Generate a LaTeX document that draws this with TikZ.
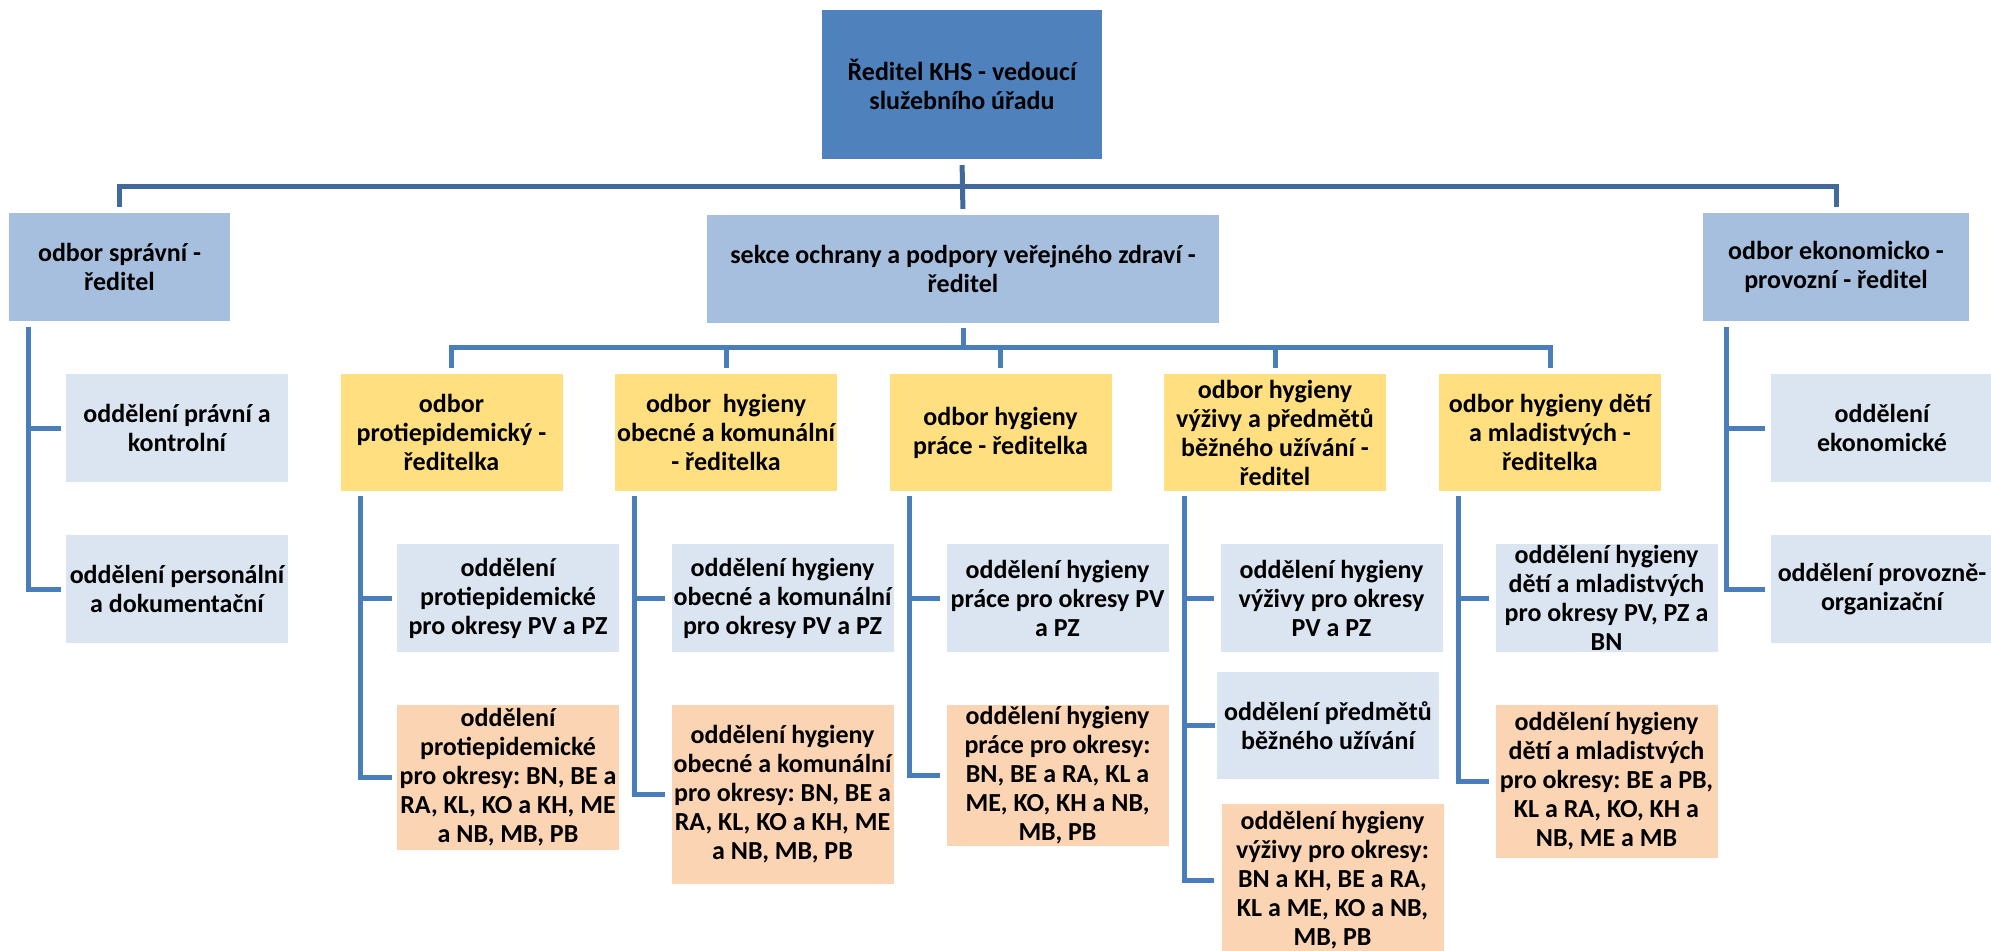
\documentclass[tikz,border=0pt]{standalone}
\usepackage{fontspec}
\setmainfont{Carlito}
\usepackage{tikz}
\frenchspacing

\definecolor{khs}{HTML}{4F81BD}
\definecolor{odbor}{HTML}{A7BFDE}
\definecolor{oddel}{HTML}{DBE5F1}
\definecolor{zluta}{HTML}{FFDF80}
\definecolor{oranz}{HTML}{FBD4B4}
\definecolor{cara}{HTML}{41699C}
\definecolor{cara2}{HTML}{4A7EBB}

\begin{document}
\begin{tikzpicture}[
  box/.style={inner sep=0pt,align=center,font=\bfseries\fontsize{26bp}{29bp}\selectfont,minimum width=222bp,minimum height=108bp},
  vedeni/.style={box,fill=khs},
  odborbox/.style={box,fill=odbor},
  oddelbox/.style={box,fill=oddel},
  zlutybox/.style={box,fill=zluta,minimum height=117bp},
  oranzbox/.style={box,fill=oranz},
  spoj/.style={line width=5bp,draw=cara2},
  hlspoj/.style={line width=5bp,draw=cara}]

\useasboundingbox (0bp,0bp) rectangle (1991bp,-951bp);

\node (KHS) at (962bp,-84.5bp)[vedeni,minimum width=280bp,minimum height=149bp] {Ředitel KHS - vedoucí\\služebního úřadu};
\node (spravni) at (119.5bp,-267bp)[odborbox,minimum width=221bp] {odbor správní -\\ředitel};
\node (sekce) at (963bp,-269bp)[odborbox,minimum width=512bp] {sekce ochrany a podpory veřejného zdraví -\\ředitel};
\node (ekonom) at (1836bp,-267bp)[odborbox,minimum width=266bp] {odbor ekonomicko -\\provozní - ředitel};
\node (pravni) at (177bp,-428bp)[oddelbox] {oddělení právní a\\kontrolní};
\node (personal) at (177bp,-589bp)[oddelbox] {oddělení personální\\a dokumentační};
\node (ekonomicke) at (1882bp,-428bp)[oddelbox] {oddělení\\ekonomické};
\node (provozni) at (1882bp,-589bp)[oddelbox] {oddělení provozně-\\organizační};
\node (proti) at (451.5bp,-432.5bp)[zlutybox] {odbor\\protiepidemický -\\ředitelka};
\node (obecna) at (726bp,-432.5bp)[zlutybox] {odbor~ hygieny\\obecné a komunální\\- ředitelka};
\node (prace) at (1000.5bp,-432.5bp)[zlutybox] {odbor hygieny\\práce - ředitelka};
\node (vyziva) at (1275bp,-432.5bp)[zlutybox] {odbor hygieny\\výživy a předmětů\\běžného užívání -\\ředitel};
\node (deti) at (1550bp,-432.5bp)[zlutybox] {odbor hygieny dětí\\a mladistvých -\\ředitelka};
\node (protiPV) at (508bp,-598bp)[oddelbox] {oddělení\\protiepidemické\\pro okresy PV a PZ};
\node (protiOkr) at (508bp,-777.5bp)[oranzbox,minimum height=145bp] {oddělení\\protiepidemické\\pro okresy: BN, BE a\\RA, KL, KO a KH, ME\\a NB, MB, PB};
\node (obecnaPV) at (782.5bp,-598bp)[oddelbox] {oddělení hygieny\\obecné a komunální\\pro okresy PV a PZ};
\node (obecnaOkr) at (782.5bp,-794.5bp)[oranzbox,minimum height=179bp] {oddělení hygieny\\obecné a komunální\\pro okresy: BN, BE a\\RA, KL, KO a KH, ME\\a NB, MB, PB};
\node (pracePV) at (1057.5bp,-598bp)[oddelbox] {oddělení hygieny\\práce pro okresy PV\\a PZ};
\node (praceOkr) at (1057.5bp,-775.5bp)[oranzbox,minimum height=141bp] {oddělení hygieny\\práce pro okresy:\\BN, BE a RA, KL a\\ME, KO, KH a NB,\\MB, PB};
\node (vyzivaPV) at (1331.5bp,-598bp)[oddelbox] {oddělení hygieny\\výživy pro okresy\\PV a PZ};
\node (predmety) at (1328bp,-725.5bp)[oddelbox,minimum height=107bp] {oddělení předmětů\\běžného užívání};
\node (vyzivaOkr) at (1332.5bp,-880bp)[oranzbox,minimum height=152bp] {oddělení hygieny\\výživy pro okresy:\\BN a KH, BE a RA,\\KL a ME, KO a NB,\\MB, PB};
\node (detiPV) at (1606.5bp,-598bp)[oddelbox] {oddělení hygieny\\dětí a mladistvých\\pro okresy PV, PZ a\\BN};
\node (detiOkr) at (1606.5bp,-781.5bp)[oranzbox,minimum height=153bp] {oddělení hygieny\\dětí a mladistvých\\pro okresy: BE a PB,\\KL a RA, KO, KH a\\NB, ME a MB};

\coordinate (bus1) at (962bp,-186bp);
\coordinate (bus2) at (963bp,-347bp);

\draw [hlspoj,shorten <=6bp,shorten >=6bp] (KHS.south) -- (sekce.north);
\draw [hlspoj,shorten <=6bp,shorten >=6bp] (spravni.north) |- (bus1) -| (ekonom.north);
\draw [spoj,shorten <=5bp] (sekce.south) -- (bus2);
\draw [spoj,shorten <=6bp,shorten >=6bp] (proti.north) |- (bus2) -| (deti.north);
\draw [spoj,shorten <=6bp] (obecna.north) -- (obecna.north |- bus2);
\draw [spoj,shorten <=6bp] (prace.north) -- (prace.north |- bus2);
\draw [spoj,shorten <=6bp] (vyziva.north) -- (vyziva.north |- bus2);
\draw [spoj] ([xshift=20bp,yshift=-6bp]spravni.south west) |- ([xshift=-5bp]pravni.west);
\draw [spoj] ([xshift=20bp,yshift=-6bp]spravni.south west) |- ([xshift=-5bp]personal.west);
\draw [spoj] ([xshift=24bp,yshift=-6bp]ekonom.south west) |- ([xshift=-6bp]ekonomicke.west);
\draw [spoj] ([xshift=24bp,yshift=-6bp]ekonom.south west) |- ([xshift=-6bp]provozni.west);
\draw [spoj] ([xshift=20bp,yshift=-5bp]proti.south west) |- ([xshift=-5bp]protiPV.west);
\draw [spoj] ([xshift=20bp,yshift=-5bp]proti.south west) |- ([xshift=-5bp]protiOkr.west);
\draw [spoj] ([xshift=20bp,yshift=-5bp]obecna.south west) |- ([xshift=-6bp]obecnaPV.west);
\draw [spoj] ([xshift=20bp,yshift=-5bp]obecna.south west) |- ([xshift=-6bp]obecnaOkr.west);
\draw [spoj] ([xshift=20bp,yshift=-5bp]prace.south west) |- ([xshift=-6bp]pracePV.west);
\draw [spoj] ([xshift=20bp,yshift=-5bp]prace.south west) |- ([xshift=-6bp]praceOkr.west);
\draw [spoj] ([xshift=21bp,yshift=-5bp]vyziva.south west) |- ([xshift=-6bp]vyzivaPV.west);
\draw [spoj] ([xshift=21bp,yshift=-5bp]vyziva.south west) |- ([xshift=-2bp]predmety.west);
\draw [spoj] ([xshift=21bp,yshift=-5bp]vyziva.south west) |- ([xshift=-7bp]vyzivaOkr.west);
\draw [spoj] ([xshift=20bp,yshift=-5bp]deti.south west) |- ([xshift=-6bp]detiPV.west);
\draw [spoj] ([xshift=20bp,yshift=-5bp]deti.south west) |- ([xshift=-6bp]detiOkr.west);
\end{tikzpicture}
\end{document}
